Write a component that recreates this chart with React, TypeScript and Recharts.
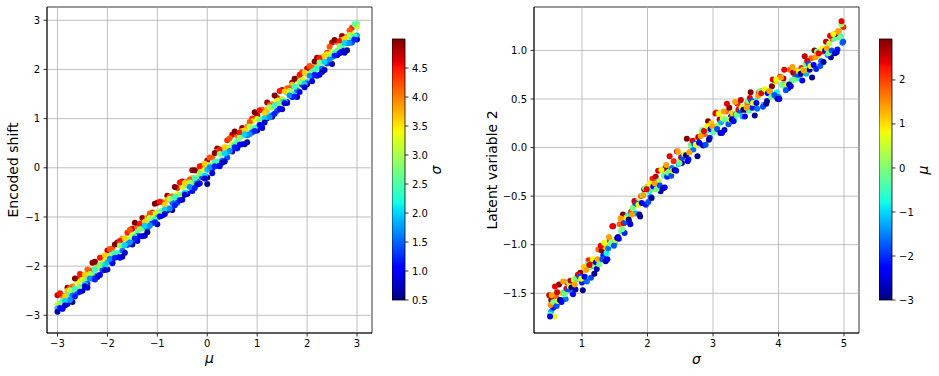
import React from "react";
import {
  ScatterChart, Scatter, ComposedChart, XAxis, YAxis, ReferenceLine, ReferenceArea, Cell,
} from "recharts";

const FONT = "DejaVu Sans, Verdana, sans-serif";

// [mu, encoded shift, sigma]
const shiftPoints: [number, number, number][] = [
  [-3.0, -2.59, 4.7], [-3.0, -2.78, 3.2], [-3.0, -2.86, 1.9], [-3.0, -2.93, 0.7],
  [-2.9, -2.60, 4.1], [-2.9, -2.71, 2.6], [-2.9, -2.87, 1.3], [-2.9, -2.85, 0.9],
  [-2.8, -2.44, 4.9], [-2.8, -2.50, 3.7], [-2.8, -2.60, 2.3], [-2.8, -2.77, 1.1],
  [-2.7, -2.41, 3.9], [-2.7, -2.54, 2.9], [-2.7, -2.59, 1.6], [-2.7, -2.73, 0.6],
  [-2.6, -2.26, 4.4], [-2.6, -2.32, 3.4], [-2.6, -2.50, 2.1], [-2.6, -2.54, 1.4],
  [-2.5, -2.19, 4.7], [-2.5, -2.27, 3.2], [-2.5, -2.44, 1.9], [-2.5, -2.50, 0.7],
  [-2.4, -2.07, 4.1], [-2.4, -2.26, 2.6], [-2.4, -2.36, 1.3], [-2.4, -2.44, 0.9],
  [-2.3, -1.93, 4.9], [-2.3, -2.08, 3.7], [-2.3, -2.17, 2.3], [-2.3, -2.25, 1.1],
  [-2.2, -1.97, 3.9], [-2.2, -2.04, 2.9], [-2.2, -2.19, 1.6], [-2.2, -2.22, 0.6],
  [-2.1, -1.83, 4.4], [-2.1, -1.88, 3.4], [-2.1, -1.97, 2.1], [-2.1, -2.09, 1.4],
  [-2.0, -1.68, 4.7], [-2.0, -1.86, 3.2], [-2.0, -1.92, 1.9], [-2.0, -2.07, 0.7],
  [-1.9, -1.64, 4.1], [-1.9, -1.74, 2.6], [-1.9, -1.92, 1.3], [-1.9, -1.94, 0.9],
  [-1.8, -1.52, 4.9], [-1.8, -1.56, 3.7], [-1.8, -1.74, 2.3], [-1.8, -1.81, 1.1],
  [-1.7, -1.44, 3.9], [-1.7, -1.59, 2.9], [-1.7, -1.68, 1.6], [-1.7, -1.81, 0.6],
  [-1.6, -1.32, 4.4], [-1.6, -1.46, 3.4], [-1.6, -1.54, 2.1], [-1.6, -1.57, 1.4],
  [-1.5, -1.24, 4.7], [-1.5, -1.36, 3.2], [-1.5, -1.52, 1.9], [-1.5, -1.56, 0.7],
  [-1.4, -1.21, 4.1], [-1.4, -1.30, 2.6], [-1.4, -1.39, 1.3], [-1.4, -1.49, 0.9],
  [-1.3, -1.02, 4.9], [-1.3, -1.16, 3.7], [-1.3, -1.23, 2.3], [-1.3, -1.39, 1.1],
  [-1.2, -1.01, 3.9], [-1.2, -1.07, 2.9], [-1.2, -1.24, 1.6], [-1.2, -1.31, 0.6],
  [-1.1, -0.91, 4.4], [-1.1, -0.94, 3.4], [-1.1, -1.11, 2.1], [-1.1, -1.13, 1.4],
  [-1.0, -0.71, 4.7], [-1.0, -0.91, 3.2], [-1.0, -1.01, 1.9], [-1.0, -1.15, 0.7],
  [-0.9, -0.70, 4.1], [-0.9, -0.88, 2.6], [-0.9, -0.96, 1.3], [-0.9, -0.97, 0.9],
  [-0.8, -0.57, 4.9], [-0.8, -0.65, 3.7], [-0.8, -0.82, 2.3], [-0.8, -0.87, 1.1],
  [-0.7, -0.58, 3.9], [-0.7, -0.63, 2.9], [-0.7, -0.71, 1.6], [-0.7, -0.86, 0.6],
  [-0.6, -0.41, 4.4], [-0.6, -0.54, 3.4], [-0.6, -0.60, 2.1], [-0.6, -0.71, 1.4],
  [-0.5, -0.28, 4.7], [-0.5, -0.39, 3.2], [-0.5, -0.57, 1.9], [-0.5, -0.65, 0.7],
  [-0.4, -0.29, 4.1], [-0.4, -0.36, 2.6], [-0.4, -0.53, 1.3], [-0.4, -0.53, 0.9],
  [-0.3, -0.05, 4.9], [-0.3, -0.21, 3.7], [-0.3, -0.32, 2.3], [-0.3, -0.47, 1.1],
  [-0.2, -0.07, 3.9], [-0.2, -0.21, 2.9], [-0.2, -0.28, 1.6], [-0.2, -0.34, 0.6],
  [-0.1, 0.04, 4.4], [-0.1, -0.03, 3.4], [-0.1, -0.19, 2.1], [-0.1, -0.19, 1.4],
  [0.0, 0.15, 4.7], [0.0, 0.05, 3.2], [0.0, -0.04, 1.9], [0.0, -0.20, 0.7], [0.0, -0.33, 0.6],
  [0.1, 0.21, 4.1], [0.1, 0.04, 2.6], [0.1, -0.02, 1.3], [0.1, -0.11, 0.9],
  [0.2, 0.39, 4.9], [0.2, 0.32, 3.7], [0.2, 0.13, 2.3], [0.2, 0.04, 1.1],
  [0.3, 0.34, 3.9], [0.3, 0.31, 2.9], [0.3, 0.15, 1.6], [0.3, 0.10, 0.6],
  [0.4, 0.56, 4.4], [0.4, 0.41, 3.4], [0.4, 0.31, 2.1], [0.4, 0.21, 1.4],
  [0.5, 0.67, 4.7], [0.5, 0.48, 3.2], [0.5, 0.40, 1.9], [0.5, 0.33, 0.7],
  [0.6, 0.66, 4.1], [0.6, 0.55, 2.6], [0.6, 0.39, 1.3], [0.6, 0.41, 0.9],
  [0.7, 0.81, 4.9], [0.7, 0.75, 3.7], [0.7, 0.65, 2.3], [0.7, 0.48, 1.1],
  [0.8, 0.84, 3.9], [0.8, 0.71, 2.9], [0.8, 0.66, 1.6], [0.8, 0.52, 0.6],
  [0.9, 1.00, 4.4], [0.9, 0.94, 3.4], [0.9, 0.76, 2.1], [0.9, 0.72, 1.4],
  [1.0, 1.07, 4.7], [1.0, 0.99, 3.2], [1.0, 0.82, 1.9], [1.0, 0.76, 0.7],
  [1.1, 1.18, 4.1], [1.1, 0.99, 2.6], [1.1, 0.89, 1.3], [1.1, 0.81, 0.9],
  [1.2, 1.33, 4.9], [1.2, 1.18, 3.7], [1.2, 1.09, 2.3], [1.2, 1.01, 1.1],
  [1.3, 1.29, 3.9], [1.3, 1.22, 2.9], [1.3, 1.07, 1.6], [1.3, 1.04, 0.6],
  [1.4, 1.42, 4.4], [1.4, 1.37, 3.4], [1.4, 1.28, 2.1], [1.4, 1.16, 1.4],
  [1.5, 1.58, 4.7], [1.5, 1.40, 3.2], [1.5, 1.34, 1.9], [1.5, 1.19, 0.7],
  [1.6, 1.62, 4.1], [1.6, 1.52, 2.6], [1.6, 1.34, 1.3], [1.6, 1.32, 0.9],
  [1.7, 1.73, 4.9], [1.7, 1.69, 3.7], [1.7, 1.51, 2.3], [1.7, 1.44, 1.1],
  [1.8, 1.81, 3.9], [1.8, 1.66, 2.9], [1.8, 1.57, 1.6], [1.8, 1.44, 0.6],
  [1.9, 1.94, 4.4], [1.9, 1.80, 3.4], [1.9, 1.72, 2.1], [1.9, 1.69, 1.4],
  [2.0, 2.02, 4.7], [2.0, 1.90, 3.2], [2.0, 1.74, 1.9], [2.0, 1.70, 0.7],
  [2.1, 2.04, 4.1], [2.1, 1.95, 2.6], [2.1, 1.86, 1.3], [2.1, 1.76, 0.9],
  [2.2, 2.24, 4.9], [2.2, 2.10, 3.7], [2.2, 2.03, 2.3], [2.2, 1.87, 1.1],
  [2.3, 2.25, 3.9], [2.3, 2.19, 2.9], [2.3, 2.02, 1.6], [2.3, 1.95, 0.6],
  [2.4, 2.34, 4.4], [2.4, 2.31, 3.4], [2.4, 2.14, 2.1], [2.4, 2.12, 1.4],
  [2.5, 2.55, 4.7], [2.5, 2.35, 3.2], [2.5, 2.25, 1.9], [2.5, 2.11, 0.7],
  [2.6, 2.56, 4.1], [2.6, 2.38, 2.6], [2.6, 2.30, 1.3], [2.6, 2.29, 0.9],
  [2.7, 2.68, 4.9], [2.7, 2.60, 3.7], [2.7, 2.43, 2.3], [2.7, 2.38, 1.1],
  [2.8, 2.67, 3.9], [2.8, 2.62, 2.9], [2.8, 2.54, 1.6], [2.8, 2.39, 0.6],
  [2.9, 2.85, 4.4], [2.9, 2.72, 3.4], [2.9, 2.66, 2.1], [2.9, 2.55, 1.4],
  [3.0, 2.93, 2.7], [3.0, 2.87, 3.2], [3.0, 2.69, 1.9], [3.0, 2.61, 0.7],
];

// second batch, mu half-way between the columns above
const shiftPointsB: [number, number, number][] = [
  [-2.95, -2.55, 4.5], [-2.95, -2.76, 2.8], [-2.95, -2.85, 1.0],
  [-2.85, -2.61, 3.6], [-2.85, -2.71, 2.0], [-2.85, -2.80, 0.8],
  [-2.75, -2.45, 4.2], [-2.75, -2.49, 3.0], [-2.75, -2.69, 1.7],
  [-2.65, -2.25, 5.0], [-2.65, -2.46, 2.4], [-2.65, -2.62, 1.2],
  [-2.55, -2.16, 4.5], [-2.55, -2.41, 2.8], [-2.55, -2.52, 1.0],
  [-2.45, -2.17, 3.6], [-2.45, -2.37, 2.0], [-2.45, -2.41, 0.8],
  [-2.35, -2.10, 4.2], [-2.35, -2.16, 3.0], [-2.35, -2.25, 1.7],
  [-2.25, -1.91, 5.0], [-2.25, -2.07, 2.4], [-2.25, -2.27, 1.2],
  [-2.15, -1.83, 4.5], [-2.15, -1.97, 2.8], [-2.15, -2.18, 1.0],
  [-2.05, -1.78, 3.6], [-2.05, -2.02, 2.0], [-2.05, -2.08, 0.8],
  [-1.95, -1.65, 4.2], [-1.95, -1.81, 3.0], [-1.95, -1.85, 1.7],
  [-1.85, -1.56, 5.0], [-1.85, -1.74, 2.4], [-1.85, -1.83, 1.2],
  [-1.75, -1.49, 4.5], [-1.75, -1.58, 2.8], [-1.75, -1.83, 1.0],
  [-1.65, -1.44, 3.6], [-1.65, -1.57, 2.0], [-1.65, -1.73, 0.8],
  [-1.55, -1.26, 4.2], [-1.55, -1.46, 3.0], [-1.55, -1.52, 1.7],
  [-1.45, -1.12, 5.0], [-1.45, -1.40, 2.4], [-1.45, -1.44, 1.2],
  [-1.35, -1.14, 4.5], [-1.35, -1.25, 2.8], [-1.35, -1.39, 1.0],
  [-1.25, -1.10, 3.6], [-1.25, -1.18, 2.0], [-1.25, -1.38, 0.8],
  [-1.15, -0.93, 4.2], [-1.15, -1.02, 3.0], [-1.15, -1.18, 1.7],
  [-1.05, -0.73, 5.0], [-1.05, -1.05, 2.4], [-1.05, -1.11, 1.2],
  [-0.95, -0.69, 4.5], [-0.95, -0.90, 2.8], [-0.95, -0.99, 1.0],
  [-0.85, -0.75, 3.6], [-0.85, -0.85, 2.0], [-0.85, -0.94, 0.8],
  [-0.75, -0.59, 4.2], [-0.75, -0.63, 3.0], [-0.75, -0.83, 1.7],
  [-0.65, -0.39, 5.0], [-0.65, -0.60, 2.4], [-0.65, -0.76, 1.2],
  [-0.55, -0.30, 4.5], [-0.55, -0.55, 2.8], [-0.55, -0.66, 1.0],
  [-0.45, -0.31, 3.6], [-0.45, -0.51, 2.0], [-0.45, -0.55, 0.8],
  [-0.35, -0.24, 4.2], [-0.35, -0.30, 3.0], [-0.35, -0.39, 1.7],
  [-0.25, -0.05, 5.0], [-0.25, -0.21, 2.4], [-0.25, -0.41, 1.2],
  [-0.15, 0.03, 4.5], [-0.15, -0.11, 2.8], [-0.15, -0.32, 1.0],
  [-0.05, 0.08, 3.6], [-0.05, -0.16, 2.0], [-0.05, -0.22, 0.8],
  [0.05, 0.21, 4.2], [0.05, 0.05, 3.0], [0.05, 0.01, 1.7],
  [0.15, 0.30, 5.0], [0.15, 0.12, 2.4], [0.15, 0.03, 1.2],
  [0.25, 0.37, 4.5], [0.25, 0.28, 2.8], [0.25, 0.03, 1.0],
  [0.35, 0.42, 3.6], [0.35, 0.29, 2.0], [0.35, 0.13, 0.8],
  [0.45, 0.60, 4.2], [0.45, 0.40, 3.0], [0.45, 0.34, 1.7],
  [0.55, 0.74, 5.0], [0.55, 0.46, 2.4], [0.55, 0.42, 1.2],
  [0.65, 0.72, 4.5], [0.65, 0.61, 2.8], [0.65, 0.47, 1.0],
  [0.75, 0.76, 3.6], [0.75, 0.68, 2.0], [0.75, 0.48, 0.8],
  [0.85, 0.93, 4.2], [0.85, 0.84, 3.0], [0.85, 0.68, 1.7],
  [0.95, 1.13, 5.0], [0.95, 0.81, 2.4], [0.95, 0.75, 1.2],
  [1.05, 1.17, 4.5], [1.05, 0.96, 2.8], [1.05, 0.87, 1.0],
  [1.15, 1.11, 3.6], [1.15, 1.01, 2.0], [1.15, 0.92, 0.8],
  [1.25, 1.27, 4.2], [1.25, 1.23, 3.0], [1.25, 1.03, 1.7],
  [1.35, 1.47, 5.0], [1.35, 1.26, 2.4], [1.35, 1.10, 1.2],
  [1.45, 1.56, 4.5], [1.45, 1.31, 2.8], [1.45, 1.20, 1.0],
  [1.55, 1.55, 3.6], [1.55, 1.35, 2.0], [1.55, 1.31, 0.8],
  [1.65, 1.62, 4.2], [1.65, 1.56, 3.0], [1.65, 1.47, 1.7],
  [1.75, 1.81, 5.0], [1.75, 1.65, 2.4], [1.75, 1.45, 1.2],
  [1.85, 1.89, 4.5], [1.85, 1.75, 2.8], [1.85, 1.54, 1.0],
  [1.95, 1.94, 3.6], [1.95, 1.70, 2.0], [1.95, 1.64, 0.8],
  [2.05, 2.07, 4.2], [2.05, 1.91, 3.0], [2.05, 1.87, 1.7],
  [2.15, 2.16, 5.0], [2.15, 1.98, 2.4], [2.15, 1.89, 1.2],
  [2.25, 2.23, 4.5], [2.25, 2.14, 2.8], [2.25, 1.89, 1.0],
  [2.35, 2.28, 3.6], [2.35, 2.15, 2.0], [2.35, 1.99, 0.8],
  [2.45, 2.46, 4.2], [2.45, 2.26, 3.0], [2.45, 2.20, 1.7],
  [2.55, 2.60, 5.0], [2.55, 2.32, 2.4], [2.55, 2.28, 1.2],
  [2.65, 2.58, 4.5], [2.65, 2.47, 2.8], [2.65, 2.33, 1.0],
  [2.75, 2.62, 3.6], [2.75, 2.54, 2.0], [2.75, 2.34, 0.8],
  [2.85, 2.79, 4.2], [2.85, 2.70, 3.0], [2.85, 2.54, 1.7],
  [2.95, 2.92, 2.6], [2.95, 2.67, 2.4], [2.95, 2.61, 1.2],
];

// [sigma, latent variable 2, mu]
const latentPoints: [number, number, number][] = [
  [0.5, -1.52, 2.6], [0.525, -1.69, -1.2], [0.55, -1.58, 0.4], [0.575, -1.61, -2.7], [0.6, -1.53, 1.8],
  [0.625, -1.61, -0.3], [0.65, -1.41, 2.9], [0.675, -1.57, -2.1], [0.7, -1.5, 1.1], [0.725, -1.49, -0.8],
  [0.75, -1.56, -1.6], [0.775, -1.39, 2.2], [0.8, -1.39, 0.1], [0.825, -1.37, 2.6], [0.85, -1.5, -1.2],
  [0.875, -1.36, 0.4], [0.9, -1.46, -2.7], [0.925, -1.35, 1.8], [0.95, -1.35, -0.3], [0.975, -1.29, 2.9],
  [1.0, -1.39, -2.1], [1.025, -1.23, 1.1], [1.05, -1.33, -0.8], [1.075, -1.38, -1.6], [1.1, -1.16, 2.2],
  [1.125, -1.23, 0.1], [1.15, -1.17, 2.6], [1.175, -1.22, -1.2], [1.2, -1.22, 0.4], [1.225, -1.25, -2.7],
  [1.25, -1.05, 1.8], [1.275, -1.16, -0.3], [1.3, -1.06, 2.9], [1.325, -1.11, -2.1], [1.35, -1.02, 1.1],
  [1.375, -1.09, -0.8], [1.4, -1.04, -1.6], [1.425, -0.96, 2.2], [1.45, -0.97, 0.1], [1.475, -0.81, 2.6],
  [1.5, -0.98, -1.2], [1.525, -0.94, 0.4], [1.55, -0.92, -2.7], [1.575, -0.79, 1.8], [1.6, -0.86, -0.3],
  [1.625, -0.69, 2.9], [1.65, -0.88, -2.1], [1.675, -0.72, 1.1], [1.7, -0.7, -0.8], [1.725, -0.77, -1.6],
  [1.75, -0.66, 2.2], [1.775, -0.63, 0.1], [1.8, -0.55, 2.6], [1.825, -0.68, -1.2], [1.85, -0.56, 0.4],
  [1.875, -0.69, -2.7], [1.9, -0.5, 1.8], [1.925, -0.49, -0.3], [1.95, -0.43, 2.9], [1.975, -0.59, -2.1],
  [2.0, -0.4, 1.1], [2.025, -0.45, -0.8], [2.05, -0.51, -1.6], [2.075, -0.32, 2.2], [2.1, -0.43, 0.1],
  [2.125, -0.3, 2.6], [2.15, -0.35, -1.2], [2.175, -0.35, 0.4], [2.2, -0.45, -2.7], [2.225, -0.23, 1.8],
  [2.25, -0.29, -0.3], [2.275, -0.21, 2.9], [2.3, -0.3, -2.1], [2.325, -0.25, 1.1], [2.35, -0.24, -0.8],
  [2.375, -0.21, -1.6], [2.4, -0.14, 2.2], [2.425, -0.22, 0.1], [2.45, -0.04, 2.6], [2.475, -0.17, -1.2],
  [2.5, -0.14, 0.4], [2.525, -0.16, -2.7], [2.55, -0.08, 1.8], [2.575, -0.08, -0.3], [2.6, 0.09, 2.9],
  [2.625, -0.12, -2.1], [2.65, -0.04, 1.1], [2.675, 0.01, -0.8], [2.7, -0.02, -1.6], [2.725, 0.07, 2.2],
  [2.75, 0.07, 0.1], [2.775, 0.11, 2.6], [2.8, 0.04, -1.2], [2.825, 0.16, 0.4], [2.85, 0.02, -2.7],
  [2.875, 0.14, 1.8], [2.9, 0.17, -0.3], [2.925, 0.27, 2.9], [2.95, 0.1, -2.1], [2.975, 0.25, 1.1],
  [3.0, 0.16, -0.8], [3.025, 0.18, -1.6], [3.05, 0.36, 2.2], [3.075, 0.23, 0.1], [3.1, 0.29, 2.6],
  [3.125, 0.26, -1.2], [3.15, 0.3, 0.4], [3.175, 0.18, -2.7], [3.2, 0.37, 1.8], [3.225, 0.26, -0.3],
  [3.25, 0.41, 2.9], [3.275, 0.32, -2.1], [3.3, 0.35, 1.1], [3.325, 0.28, -0.8], [3.35, 0.34, -1.6],
  [3.375, 0.45, 2.2], [3.4, 0.35, 0.1], [3.425, 0.49, 2.6], [3.45, 0.32, -1.2], [3.475, 0.42, 0.4],
  [3.5, 0.39, -2.7], [3.525, 0.46, 1.8], [3.55, 0.38, -0.3], [3.575, 0.57, 2.9], [3.6, 0.41, -2.1],
  [3.625, 0.47, 1.1], [3.65, 0.48, -0.8], [3.675, 0.4, -1.6], [3.7, 0.57, 2.2], [3.725, 0.56, 0.1],
  [3.75, 0.58, 2.6], [3.775, 0.44, -1.2], [3.8, 0.58, 0.4], [3.825, 0.48, -2.7], [3.85, 0.58, 1.8],
  [3.875, 0.58, -0.3], [3.9, 0.63, 2.9], [3.925, 0.53, -2.1], [3.95, 0.68, 1.1], [3.975, 0.57, -0.8],
  [4.0, 0.52, -1.6], [4.025, 0.73, 2.2], [4.05, 0.65, 0.1], [4.075, 0.71, 2.6], [4.1, 0.65, -1.2],
  [4.125, 0.65, 0.4], [4.15, 0.61, -2.7], [4.175, 0.8, 1.8], [4.2, 0.69, -0.3], [4.225, 0.77, 2.9],
  [4.25, 0.71, -2.1], [4.275, 0.79, 1.1], [4.3, 0.71, -0.8], [4.325, 0.75, -1.6], [4.35, 0.82, 2.2],
  [4.375, 0.8, 0.1], [4.4, 0.94, 2.6], [4.425, 0.76, -1.2], [4.45, 0.8, 0.4], [4.475, 0.8, -2.7],
  [4.5, 0.92, 1.8], [4.525, 0.84, -0.3], [4.55, 1.0, 2.9], [4.575, 0.81, -2.1], [4.6, 0.95, 1.1],
  [4.625, 0.97, -0.8], [4.65, 0.89, -1.6], [4.675, 0.99, 2.2], [4.7, 1.02, 0.1], [4.725, 1.09, 2.6],
  [4.75, 0.95, -1.2], [4.775, 1.07, 0.4], [4.8, 0.93, -2.7], [4.825, 1.12, 1.8], [4.85, 1.12, -0.3],
  [4.875, 1.17, 2.9], [4.9, 1.01, -2.1], [4.925, 1.19, 1.1], [4.95, 1.14, -0.8], [4.975, 1.08, -1.6],
  [4.99, 1.24, 2.2], [4.96, 1.27, 0.1], [0.51, -1.72, -0.4], [0.53, -1.57, 2.8], [0.56, -1.65, -2.4],
  [0.52, -1.62, 1.5], [0.58, -1.74, 0.7], [0.62, -1.49, 2.5],
];

// second batch, sigma half-way between the points above
const latentPointsB: [number, number, number][] = [
  [0.5125, -1.74, -2.4], [0.5375, -1.52, 1.4], [0.5625, -1.59, -0.1], [0.5875, -1.43, 2.4], [0.6125, -1.63, -1.8],
  [0.6375, -1.58, 0.8], [0.6625, -1.57, -2.9], [0.6875, -1.59, -2.4], [0.7125, -1.38, 1.4], [0.7375, -1.51, -0.1],
  [0.7625, -1.45, 2.4], [0.7875, -1.46, -1.8], [0.8125, -1.43, 0.8], [0.8375, -1.44, -2.9], [0.8625, -1.51, -2.4],
  [0.8875, -1.41, 1.4], [0.9125, -1.34, -0.1], [0.9375, -1.31, 2.4], [0.9625, -1.33, -1.8], [0.9875, -1.35, 0.8],
  [1.0125, -1.47, -2.9], [1.0375, -1.33, -2.4], [1.0625, -1.26, 1.4], [1.0875, -1.2, -0.1], [1.1125, -1.21, 2.4],
  [1.1375, -1.34, -1.8], [1.1625, -1.15, 0.8], [1.1875, -1.3, -2.9], [1.2125, -1.18, -2.4], [1.2375, -1.15, 1.4],
  [1.2625, -1.2, -0.1], [1.2875, -1.01, 2.4], [1.3125, -1.15, -1.8], [1.3375, -0.98, 0.8], [1.3625, -1.17, -2.9],
  [1.3875, -1.15, -2.4], [1.4125, -0.92, 1.4], [1.4375, -0.99, -0.1], [1.4625, -0.81, 2.4], [1.4875, -1.01, -1.8],
  [1.5125, -0.95, 0.8], [1.5375, -0.93, -2.9], [1.5625, -0.94, -2.4], [1.5875, -0.73, 1.4], [1.6125, -0.84, -0.1],
  [1.6375, -0.78, 2.4], [1.6625, -0.77, -1.8], [1.6875, -0.73, 0.8], [1.7125, -0.74, -2.9], [1.7375, -0.79, -2.4],
  [1.7625, -0.69, 1.4], [1.7875, -0.61, -0.1], [1.8125, -0.57, 2.4], [1.8375, -0.58, -1.8], [1.8625, -0.59, 0.8],
  [1.8875, -0.71, -2.9], [1.9125, -0.57, -2.4], [1.9375, -0.49, 1.4], [1.9625, -0.42, -0.1], [1.9875, -0.43, 2.4],
  [2.0125, -0.56, -1.8], [2.0375, -0.37, 0.8], [2.0625, -0.52, -2.9], [2.0875, -0.4, -2.4], [2.1125, -0.37, 1.4],
  [2.1375, -0.43, -0.1], [2.1625, -0.24, 2.4], [2.1875, -0.39, -1.8], [2.2125, -0.23, 0.8], [2.2375, -0.42, -2.9],
  [2.2625, -0.41, -2.4], [2.2875, -0.18, 1.4], [2.3125, -0.26, -0.1], [2.3375, -0.09, 2.4], [2.3625, -0.29, -1.8],
  [2.3875, -0.24, 0.8], [2.4125, -0.23, -2.9], [2.4375, -0.24, -2.4], [2.4625, -0.04, 1.4], [2.4875, -0.16, -0.1],
  [2.5125, -0.1, 2.4], [2.5375, -0.1, -1.8], [2.5625, -0.07, 0.8], [2.5875, -0.08, -2.9], [2.6125, -0.14, -2.4],
  [2.6375, -0.05, 1.4], [2.6625, 0.03, -0.1], [2.6875, 0.07, 2.4], [2.7125, 0.04, -1.8], [2.7375, 0.03, 0.8],
  [2.7625, -0.09, -2.9], [2.7875, 0.05, -2.4], [2.8125, 0.12, 1.4], [2.8375, 0.18, -0.1], [2.8625, 0.17, 2.4],
  [2.8875, 0.03, -1.8], [2.9125, 0.22, 0.8], [2.9375, 0.08, -2.9], [2.9625, 0.19, -2.4], [2.9875, 0.22, 1.4],
  [3.0125, 0.17, -0.1], [3.0375, 0.35, 2.4], [3.0625, 0.19, -1.8], [3.0875, 0.35, 0.8], [3.1125, 0.15, -2.9],
  [3.1375, 0.15, -2.4], [3.1625, 0.37, 1.4], [3.1875, 0.29, -0.1], [3.2125, 0.45, 2.4], [3.2375, 0.24, -1.8],
  [3.2625, 0.29, 0.8], [3.2875, 0.29, -2.9], [3.3125, 0.27, -2.4], [3.3375, 0.47, 1.4], [3.3625, 0.34, -0.1],
  [3.3875, 0.39, 2.4], [3.4125, 0.38, -1.8], [3.4375, 0.41, 0.8], [3.4625, 0.39, -2.9], [3.4875, 0.32, -2.4],
  [3.5125, 0.41, 1.4], [3.5375, 0.48, -0.1], [3.5625, 0.51, 2.4], [3.5875, 0.48, -1.8], [3.6125, 0.46, 0.8],
  [3.6375, 0.33, -2.9], [3.6625, 0.46, -2.4], [3.6875, 0.53, 1.4], [3.7125, 0.58, -0.1], [3.7375, 0.56, 2.4],
  [3.7625, 0.42, -1.8], [3.7875, 0.6, 0.8], [3.8125, 0.45, -2.9], [3.8375, 0.56, -2.4], [3.8625, 0.58, 1.4],
  [3.8875, 0.52, -0.1], [3.9125, 0.7, 2.4], [3.9375, 0.54, -1.8], [3.9625, 0.7, 0.8], [3.9875, 0.5, -2.9],
  [4.0125, 0.5, -2.4], [4.0375, 0.72, 1.4], [4.0625, 0.64, -0.1], [4.0875, 0.8, 2.4], [4.1125, 0.59, -1.8],
  [4.1375, 0.65, 0.8], [4.1625, 0.65, -2.9], [4.1875, 0.63, -2.4], [4.2125, 0.83, 1.4], [4.2375, 0.7, -0.1],
  [4.2625, 0.76, 2.4], [4.2875, 0.75, -1.8], [4.3125, 0.78, 0.8], [4.3375, 0.76, -2.9], [4.3625, 0.69, -2.4],
  [4.3875, 0.79, 1.4], [4.4125, 0.86, -0.1], [4.4375, 0.89, 2.4], [4.4625, 0.86, -1.8], [4.4875, 0.84, 0.8],
  [4.5125, 0.72, -2.9], [4.5375, 0.85, -2.4], [4.5625, 0.93, 1.4], [4.5875, 0.99, -0.1], [4.6125, 0.97, 2.4],
  [4.6375, 0.84, -1.8], [4.6625, 1.02, 0.8], [4.6875, 0.88, -2.9], [4.7125, 1.0, -2.4], [4.7375, 1.02, 1.4],
  [4.7625, 0.97, -0.1], [4.7875, 1.15, 2.4], [4.8125, 1.0, -1.8], [4.8375, 1.17, 0.8], [4.8625, 0.97, -2.9],
  [4.8875, 0.98, -2.4], [4.9125, 1.2, 1.4], [4.9375, 1.13, -0.1], [4.9625, 1.3, 2.4], [4.9875, 1.09, -1.8],
];

const muTicks = [-3, -2, -1, 0, 1, 2, 3];
const shiftTicks = [-3, -2, -1, 0, 1, 2, 3];
const sigmaTicks = [1, 2, 3, 4, 5];
const latentTicks = [-1.5, -1, -0.5, 0, 0.5, 1];
const sigmaBarTicks = [0.5, 1, 1.5, 2, 2.5, 3, 3.5, 4, 4.5];
const muBarTicks = [-3, -2, -1, 0, 1, 2];

const SIGMA_RANGE: [number, number] = [0.5, 5.0];
const MU_RANGE: [number, number] = [-3.0, 2.93];

// matplotlib "jet" segment data
const JET: Record<"r" | "g" | "b", [number, number][]> = {
  r: [[0, 0], [0.35, 0], [0.66, 1], [0.89, 1], [1, 0.5]],
  g: [[0, 0], [0.125, 0], [0.375, 1], [0.64, 1], [0.91, 0], [1, 0]],
  b: [[0, 0.5], [0.11, 1], [0.34, 1], [0.65, 0], [1, 0]],
};
const JET_STOPS = [0, 0.11, 0.125, 0.34, 0.35, 0.375, 0.5, 0.64, 0.65, 0.66, 0.89, 0.91, 1];

function seg(pts: [number, number][], t: number) {
  for (let i = 1; i < pts.length; i++) {
    if (t <= pts[i][0]) {
      const [x0, y0] = pts[i - 1];
      const [x1, y1] = pts[i];
      return y0 + ((t - x0) / (x1 - x0)) * (y1 - y0);
    }
  }
  return pts[pts.length - 1][1];
}
function jet(t: number) {
  const c = Math.max(0, Math.min(1, t));
  const h = (v: number) => Math.round(v * 255);
  return `rgb(${h(seg(JET.r, c))},${h(seg(JET.g, c))},${h(seg(JET.b, c))})`;
}

const minus = (s: string) => s.replace("-", "\u2212");
const tickStyle = { fill: "#000", fontSize: 10, fontFamily: FONT };
const spine = { stroke: "#000", strokeWidth: 0.8 };

function Panel({
  left, points, xDomain, yDomain, xTicks, yTicks, cRange, fmtY,
}: {
  left: number;
  points: [number, number, number][];
  xDomain: [number, number];
  yDomain: [number, number];
  xTicks: number[];
  yTicks: number[];
  cRange: [number, number];
  fmtY: (v: number) => string;
}) {
  const data = points.map(([x, y, c]) => ({ x, y, c, color: jet((c - cRange[0]) / (cRange[1] - cRange[0])) }));
  return (
    <div style={{ position: "absolute", left, top: 0 }}>
      <ScatterChart width={380} height={376} margin={{ top: 7, right: 8, bottom: 0, left: 0 }}>
        <XAxis type="number" dataKey="x" domain={xDomain} ticks={xTicks} allowDataOverflow interval={0}
          height={43} tickSize={3.5} tickMargin={3.5} axisLine={spine} tickLine={spine} tick={tickStyle}
          tickFormatter={(v: number) => minus(String(v))} />
        <YAxis type="number" dataKey="y" domain={yDomain} ticks={yTicks} allowDataOverflow interval={0}
          width={47} tickSize={3.5} tickMargin={3.5} axisLine={spine} tickLine={spine} tick={tickStyle}
          tickFormatter={fmtY} />
        <Scatter data={data} isAnimationActive={false}
          shape={(p: any) => <circle cx={p.cx} cy={p.cy} r={3} fill={p.payload?.color ?? p.fill} />}>
          {data.map((d, i) => <Cell key={i} fill={d.color} />)}
        </Scatter>
        {xTicks.map((v) => <ReferenceLine key={"x" + v} x={v} stroke="#b0b0b0" strokeWidth={0.8} />)}
        {yTicks.map((v) => <ReferenceLine key={"y" + v} y={v} stroke="#b0b0b0" strokeWidth={0.8} />)}
        <ReferenceArea x1={xDomain[0]} x2={xDomain[1]} y1={yDomain[0]} y2={yDomain[1]}
          fill="none" fillOpacity={0} stroke="#000" strokeWidth={0.8} />
      </ScatterChart>
    </div>
  );
}

function ColorBar({
  left, id, range, ticks, fmt,
}: {
  left: number; id: string; range: [number, number]; ticks: number[]; fmt: (v: number) => string;
}) {
  return (
    <div style={{ position: "absolute", left, top: 0 }}>
      <ComposedChart width={60} height={376} margin={{ top: 39, right: 0, bottom: 76, left: 0 }}
        data={[{ x: 0 }, { x: 1 }]}>
        <defs>
          <linearGradient id={id} x1="0" y1="1" x2="0" y2="0">
            {JET_STOPS.map((t) => <stop key={t} offset={t} stopColor={jet(t)} />)}
          </linearGradient>
        </defs>
        <XAxis type="number" dataKey="x" domain={[0, 1]} hide />
        <YAxis type="number" orientation="right" domain={range} ticks={ticks} allowDataOverflow interval={0}
          width={47} tickSize={3.5} tickMargin={3.5} axisLine={false} tickLine={spine} tick={tickStyle}
          tickFormatter={fmt} />
        <ReferenceArea x1={0} x2={1} y1={range[0]} y2={range[1]} fill={`url(#${id})`} fillOpacity={1}
          stroke="#000" strokeWidth={0.8} />
      </ComposedChart>
    </div>
  );
}

export default function App() {
  const title = { fontFamily: FONT, fontSize: 14, fill: "#000" };
  return (
    <div style={{ position: "absolute", left: 0, top: 0, width: 939, height: 376, background: "#fff" }}>
      <Panel left={0} points={[...shiftPoints, ...shiftPointsB]} xDomain={[-3.21, 3.3]} yDomain={[-3.36, 3.27]}
        xTicks={muTicks} yTicks={shiftTicks} cRange={SIGMA_RANGE} fmtY={(v) => minus(String(v))} />
      <ColorBar left={392} id="jetSigma" range={SIGMA_RANGE} ticks={sigmaBarTicks} fmt={(v) => v.toFixed(1)} />
      <Panel left={487} points={[...latentPoints, ...latentPointsB]} xDomain={[0.267, 5.229]} yDomain={[-1.909, 1.447]}
        xTicks={sigmaTicks} yTicks={latentTicks} cRange={MU_RANGE} fmtY={(v) => minus(v.toFixed(1))} />
      <ColorBar left={879} id="jetMu" range={MU_RANGE} ticks={muBarTicks} fmt={(v) => minus(String(v))} />
      <svg width={939} height={376} style={{ position: "absolute", left: 0, top: 0, pointerEvents: "none" }}>
        <text {...title} x={18} y={170} textAnchor="middle" transform="rotate(-90 18 170)">Encoded shift</text>
        <text {...title} x={209.5} y={363} textAnchor="middle" fontStyle="italic">μ</text>
        <text {...title} x={441} y={170} textAnchor="middle" fontStyle="italic" transform="rotate(-90 441 170)">σ</text>
        <text {...title} x={497} y={170} textAnchor="middle" transform="rotate(-90 497 170)">Latent variable 2</text>
        <text {...title} x={696.5} y={364} textAnchor="middle" fontStyle="italic">σ</text>
        <text {...title} x={928} y={170} textAnchor="middle" fontStyle="italic" transform="rotate(-90 928 170)">μ</text>
      </svg>
    </div>
  );
}
